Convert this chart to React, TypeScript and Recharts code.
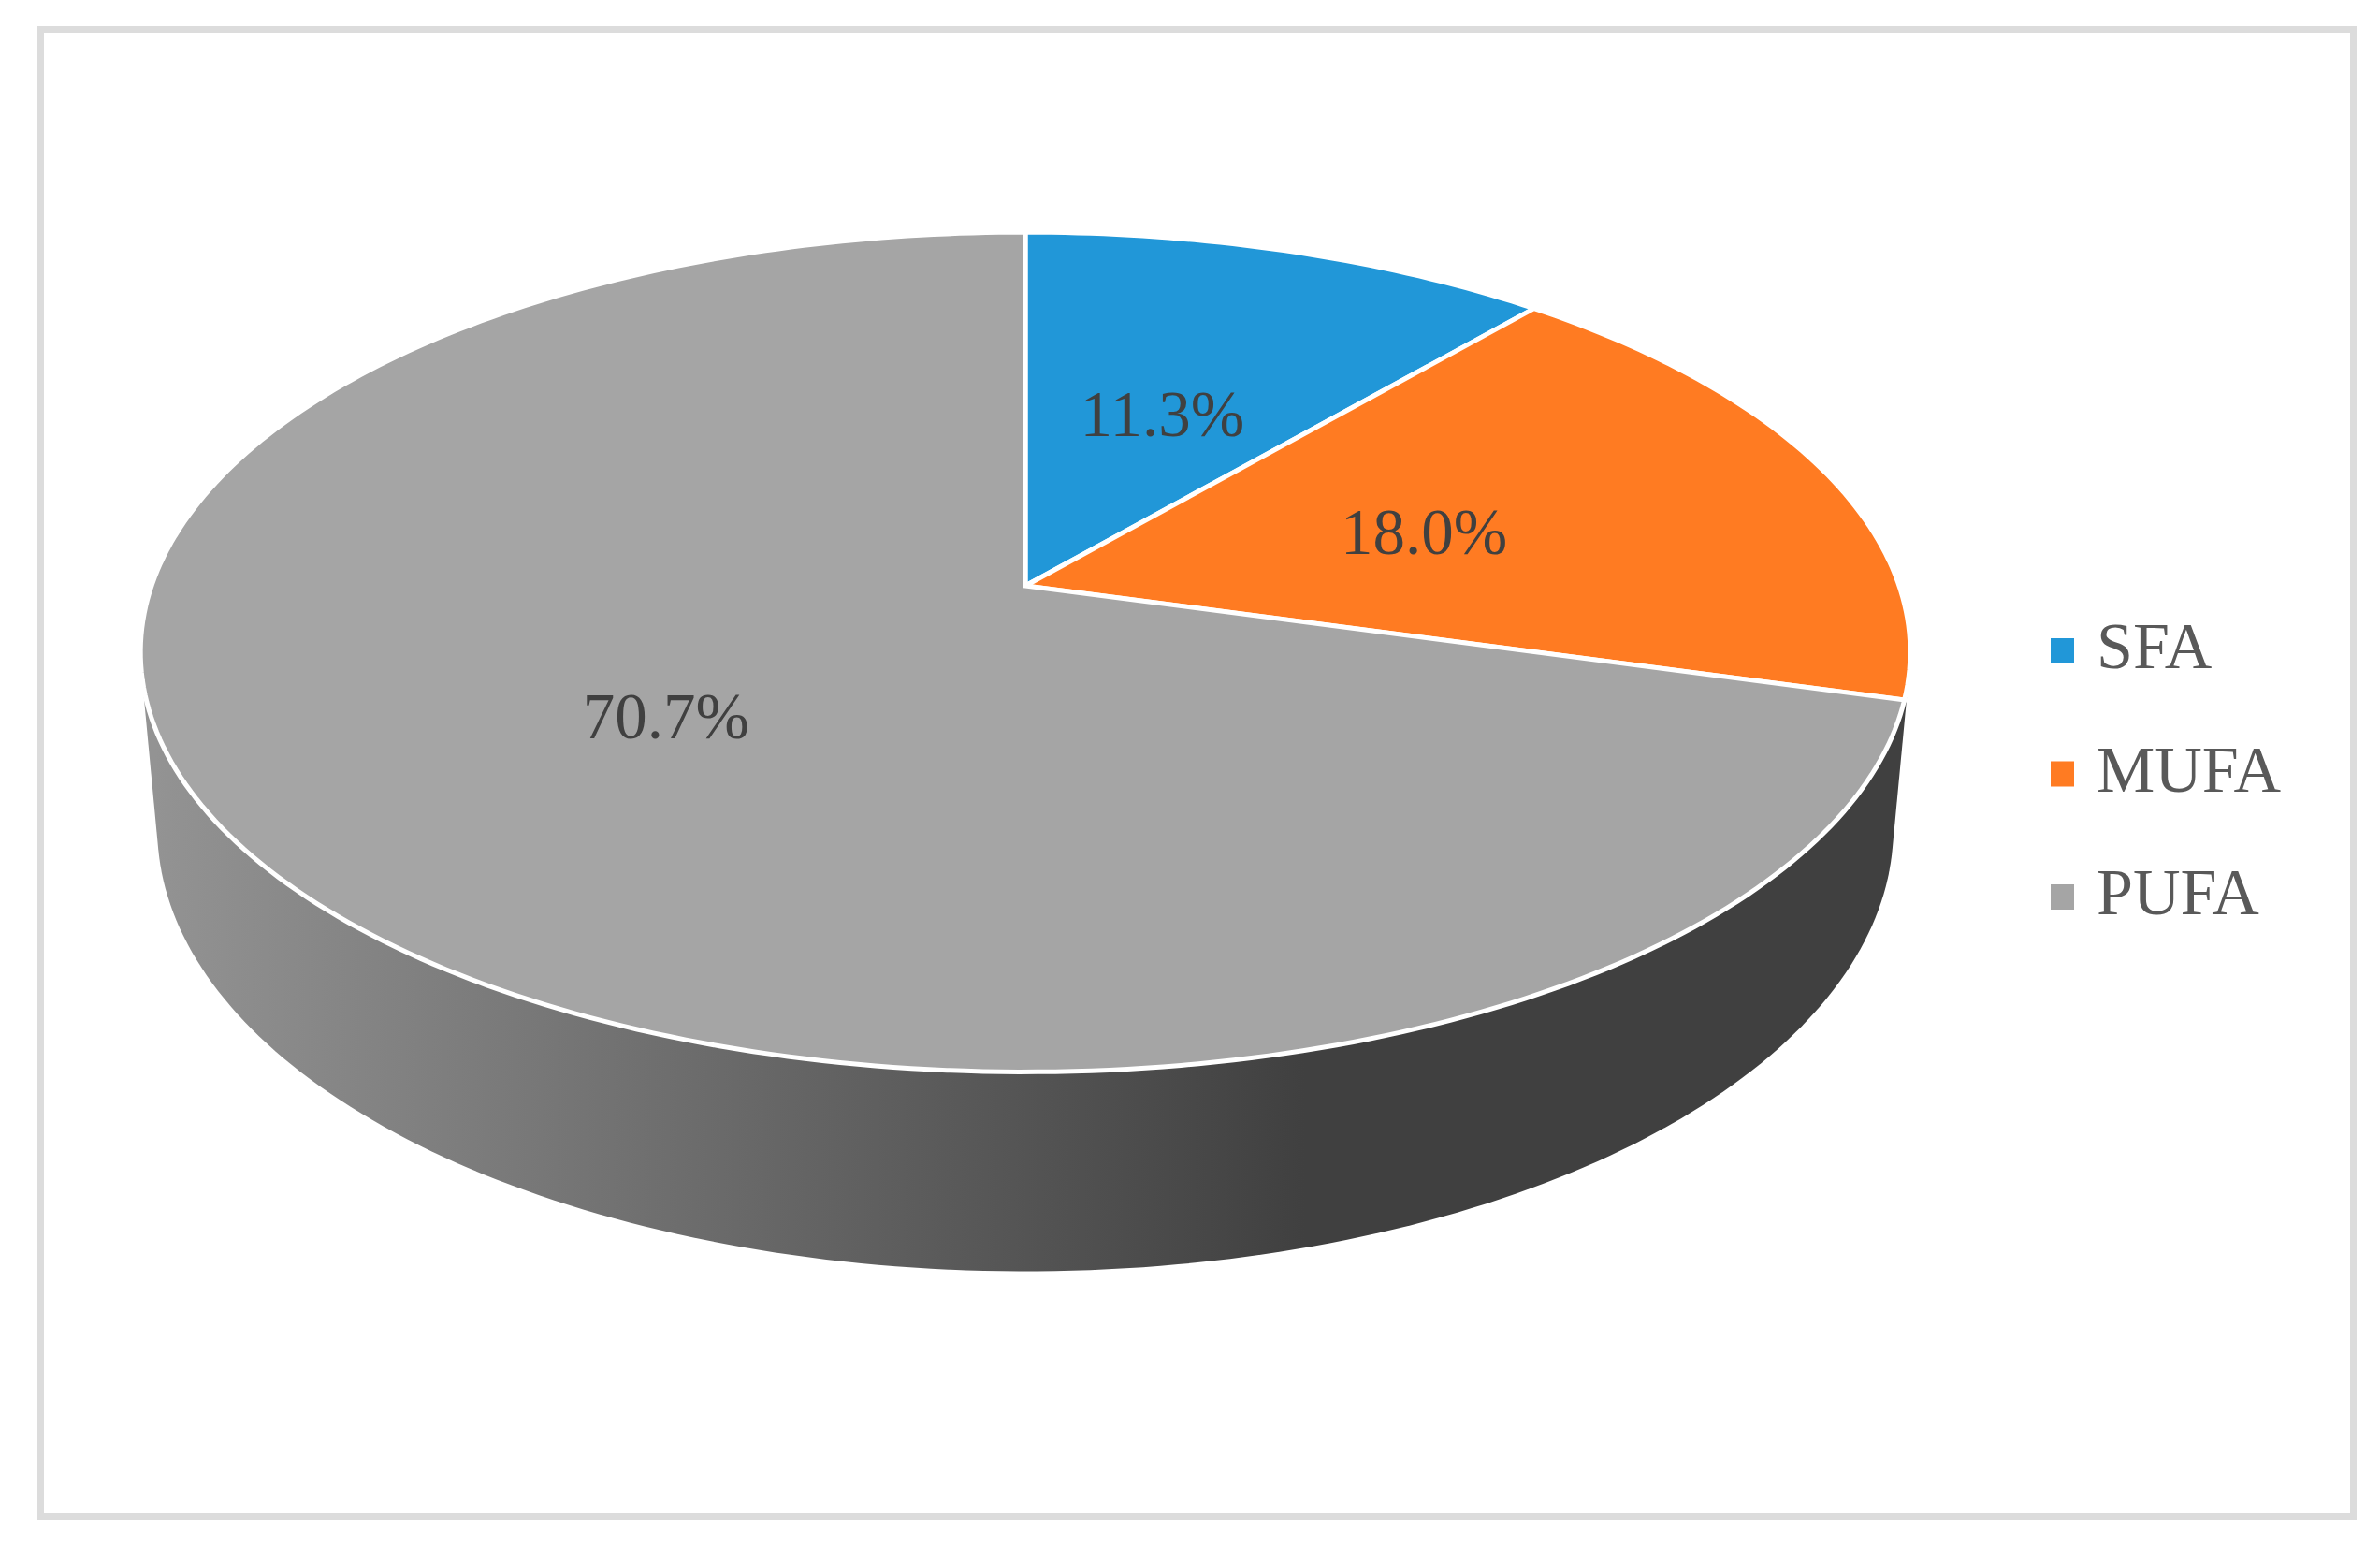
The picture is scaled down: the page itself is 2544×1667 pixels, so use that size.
import React from 'react';
import { PieChart, Pie, Legend } from 'recharts';

const categories = ['SFA', 'MUFA', 'PUFA'];
const shares = [11.3, 18.0, 70.7];
const sliceColors = ['#2197d8', '#ff7b22', '#a5a5a5'];

const pieData = categories.map((name, i) => ({ name, value: shares[i], fill: sliceColors[i] }));

// fake 3D: the circle gets pushed through a small perspective so the centre sits above the ellipse middle
const TILT = 0.1577;
const RADIUS = 934;
const SQUASH = 437.5 / RADIUS;
const LOWER_SCALE = 0.981;
const LOWER_DROP = 184;
const LOWER_SQUASH = 462 / (RADIUS * LOWER_SCALE);

const project = (cx: number, cy: number, a: number, b: number, deg: number, r = 1) => {
  const x = r * Math.cos((deg * Math.PI) / 180);
  const y = r * Math.sin((deg * Math.PI) / 180);
  const w = 1 + TILT * y;
  return [cx + (a * x) / w, cy - (b * y) / w];
};

const anglesBetween = (from: number, to: number) => {
  const out: number[] = [];
  const steps = Math.max(2, Math.ceil(Math.abs(to - from)));
  for (let i = 0; i <= steps; i++) out.push(from + ((to - from) * i) / steps);
  return out;
};

const hull = (pts: number[][]) => {
  const sorted = [...pts].sort((p, q) => p[0] - q[0] || p[1] - q[1]);
  const cross = (o: number[], p: number[], q: number[]) =>
    (p[0] - o[0]) * (q[1] - o[1]) - (p[1] - o[1]) * (q[0] - o[0]);
  const half = (list: number[][]) => {
    const h: number[][] = [];
    list.forEach(p => {
      while (h.length >= 2 && cross(h[h.length - 2], h[h.length - 1], p) <= 0) h.pop();
      h.push(p);
    });
    h.pop();
    return h;
  };
  return [...half(sorted), ...half([...sorted].reverse())];
};

const toPath = (pts: number[][]) => 'M' + pts.map(p => `${p[0]},${p[1]}`).join('L') + 'Z';

const TopSlice = (props: any) => {
  const { cx, cy, outerRadius, startAngle, endAngle, fill } = props;
  const arc = anglesBetween(startAngle, endAngle).map(d =>
    project(cx, cy, outerRadius, outerRadius * SQUASH, d)
  );
  return (
    <path d={toPath([[cx, cy], ...arc])} fill={fill} stroke="#ffffff" strokeWidth={5} strokeLinejoin="miter" />
  );
};

const WallSlice = (props: any) => {
  const { cx, cy, outerRadius, startAngle, endAngle } = props;
  const pts: number[][] = [];
  anglesBetween(startAngle, endAngle).forEach(d => {
    pts.push(project(cx, cy, outerRadius, outerRadius * SQUASH, d));
    pts.push(
      project(cx, cy + LOWER_DROP, outerRadius * LOWER_SCALE, outerRadius * LOWER_SCALE * LOWER_SQUASH, d)
    );
  });
  return <path d={toPath(hull(pts))} fill="url(#wallShade)" stroke="none" />;
};

const renderPercent = (props: any) => {
  const { cx, cy, outerRadius, midAngle, value } = props;
  const [x, y] = project(cx, cy, outerRadius, outerRadius * SQUASH, midAngle, 0.49);
  return (
    <text
      x={x - 2}
      y={y + 4}
      textAnchor="middle"
      dominantBaseline="central"
      fontFamily="'Liberation Serif', serif"
      fontSize={69}
      fill="#404040"
    >
      {`${Number(value).toFixed(1)}%`}
    </text>
  );
};

const renderLegend = () => (
  <svg width={340} height={360} style={{ display: 'block' }}>
    {categories.map((name, i) => (
      <g key={name}>
        <rect x={3} y={35 + i * 131.5} width={25} height={27} fill={sliceColors[i]} />
        <text
          x={52}
          y={67 + i * 131.5}
          fontFamily="'Liberation Serif', serif"
          fontSize={70}
          fill="#595959"
        >
          {name}
        </text>
      </g>
    ))}
  </svg>
);

export default function App() {
  return (
    <div style={{ position: 'absolute', left: 0, top: 0, width: 2544, height: 1667, background: '#ffffff' }}>
      <div
        style={{
          position: 'absolute',
          left: 40,
          top: 28,
          width: 2479,
          height: 1596,
          boxSizing: 'border-box',
          border: '7px solid #dcdcdc',
        }}
      />
      <div style={{ position: 'absolute', left: 0, top: 0 }}>
        <PieChart width={2544} height={1667} margin={{ top: 0, right: 0, bottom: 0, left: 0 }}>
          <defs>
            <linearGradient id="wallShade" gradientUnits="userSpaceOnUse" x1="165" y1="0" x2="1395" y2="0">
              <stop offset="0" stopColor="#939393" />
              <stop offset="1" stopColor="#404040" />
            </linearGradient>
          </defs>
          <Pie
            data={pieData}
            dataKey="value"
            nameKey="name"
            cx={1096}
            cy={626}
            outerRadius={RADIUS}
            startAngle={90}
            endAngle={-270}
            legendType="none"
            shape={WallSlice}
            isAnimationActive={false}
          />
          <Pie
            data={pieData}
            dataKey="value"
            nameKey="name"
            cx={1096}
            cy={626}
            outerRadius={RADIUS}
            startAngle={90}
            endAngle={-270}
            legendType="square"
            shape={TopSlice}
            label={renderPercent}
            labelLine={false}
            isAnimationActive={false}
          />
          <Legend
            layout="vertical"
            align="right"
            verticalAlign="top"
            content={renderLegend}
            wrapperStyle={{ position: 'absolute', left: 2189, top: 647, width: 340 }}
          />
        </PieChart>
      </div>
    </div>
  );
}
